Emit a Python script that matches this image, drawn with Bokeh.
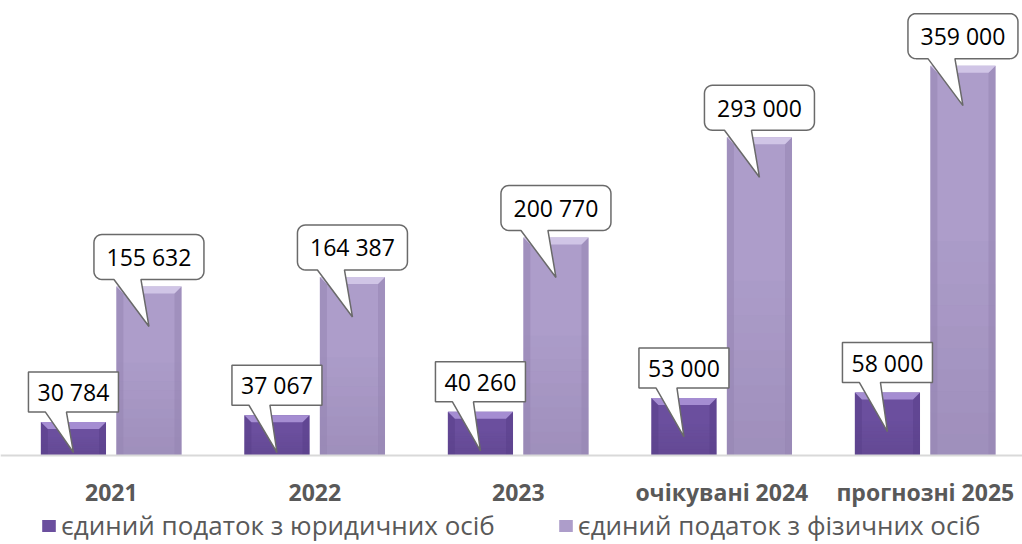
import numpy as np
from bokeh.plotting import figure
from bokeh.models import Range1d, FixedTicker, Legend, LegendItem
from bokeh.core.properties import value
from bokeh.embed import file_html
from bokeh.resources import INLINE

# ---------------- data ----------------
categories = ["2021", "2022", "2023", "очікувані 2024", "прогнозні 2025"]
legal_tax = [30784, 37067, 40260, 53000, 58000]
individual_tax = [155632, 164387, 200770, 293000, 359000]
series_names = ["єдиний податок з юридичних осіб", "єдиний податок з фізичних осіб"]

# ---------------- geometry / style ----------------
W, H = 1022, 544
BASE_PX = 455                 # baseline distance from top, px
CAT_PX = 203.5
X0 = -110.8 / CAT_PX
X1 = X0 + W / CAT_PX
PY = 1 / 0.001086             # y data units per pixel
PX = (X1 - X0) / W            # x data units per pixel
Y0 = -(H - BASE_PX) * PY
Y1 = BASE_PX * PY

BAR_W = 0.32
OFF_DARK, OFF_LIGHT = -0.186, 0.185

DARK = dict(base="#6b4f9e", top="#a58dd2", side="#5a3f8a")
LIGHT = dict(base="#ad9dca", top="#d0c5e6", side="#9585b3")

FONT = "Open Sans"

p = figure(frame_width=W, frame_height=H,
           x_range=Range1d(X0, X1), y_range=Range1d(Y0, Y1),
           y_axis_location=None,
           output_backend="svg", toolbar_location=None,
           min_border_left=0, min_border_right=0, min_border_top=0, min_border_bottom=0)
p.outline_line_color = None
p.grid.visible = False
p.background_fill_color = "white"
p.border_fill_color = "white"

xs_idx = np.arange(len(categories))


def draw_bars(offset, vals, col):
    left = xs_idx + offset - BAR_W / 2
    right = xs_idx + offset + BAR_W / 2
    vals = np.array(vals, dtype=float)
    r = p.quad(left=left, right=right, bottom=0, top=vals,
               fill_color=col["base"], line_color=None)
    b = 7  # bevel size in px
    bx, by = b * PX, b * PY
    nb = 10
    band_xs, band_ys, band_alpha = [], [], []
    for l, rr, v in zip(left, right, vals):
        for k in range(nb):
            y0 = v * 0.55 * k / nb
            y1 = v * 0.55 * (k + 1) / nb
            band_xs.append([l, rr, rr, l])
            band_ys.append([y0, y0, y1, y1])
            band_alpha.append(0.10 * (1 - k / nb))
    p.patches(band_xs, band_ys, fill_color="#2a1a40", fill_alpha=band_alpha, line_color=None)
    side_xs, side_ys = [], []
    for l, rr, v in zip(left, right, vals):
        side_xs.append([l, l + bx, l + bx, l])
        side_ys.append([v, v - by, 0, 0])
        side_xs.append([rr, rr - bx, rr - bx, rr])
        side_ys.append([v, v - by, 0, 0])
    p.patches(side_xs, side_ys, fill_color=col["side"], fill_alpha=0.55, line_color=None)
    top_xs, top_ys = [], []
    for l, rr, v in zip(left, right, vals):
        top_xs.append([l, rr, rr - bx, l + bx])
        top_ys.append([v, v, v - by, v - by])
    p.patches(top_xs, top_ys, fill_color=col["top"], line_color=None)
    return r


r_dark = draw_bars(OFF_DARK, legal_tax, DARK)
r_light = draw_bars(OFF_LIGHT, individual_tax, LIGHT)


def arc(cx, cy, r, a0, a1, n=8):
    if r <= 0:
        return [(cx, cy)]
    t = np.linspace(np.radians(a0), np.radians(a1), n)
    return list(zip(cx + r * np.cos(t), cy + r * np.sin(t)))


def callout(xc, v, w, h, gap, rad, tl, tr, depth):
    left, right = -w / 2, w / 2
    bot, top = gap, gap + h
    pts = []
    pts += arc(left + rad, bot + rad, rad, 180, 270)
    pts += [(tl, bot), (0, -depth), (tr, bot)]
    pts += arc(right - rad, bot + rad, rad, 270, 360)
    pts += arc(right - rad, top - rad, rad, 0, 90)
    pts += arc(left + rad, top - rad, rad, 90, 180)
    px_ = [xc + dx * PX for dx, dy in pts]
    py_ = [v + dy * PY for dx, dy in pts]
    return px_, py_, v + (gap + h / 2) * PY


def fmt(v):
    return f"{v:,}".replace(",", " ")


c_xs, c_ys, t_x, t_y, t_s = [], [], [], [], []
for i, v in enumerate(legal_tax):
    xc = i + OFF_DARK
    depth = min(39, v / PY - 3)
    a, b_, ty = callout(xc, v, 90, 40, 10, 0, -28, -7, depth)
    c_xs.append(a); c_ys.append(b_); t_x.append(xc); t_y.append(ty); t_s.append(fmt(v))
for i, v in enumerate(individual_tax):
    xc = i + OFF_LIGHT
    a, b_, ty = callout(xc, v, 110, 45, 7, 8, -35, -8, 40)
    c_xs.append(a); c_ys.append(b_); t_x.append(xc); t_y.append(ty); t_s.append(fmt(v))

p.patches(c_xs, c_ys, fill_color="white", line_color="#6a6a6a", line_width=1.5)
p.text(x=t_x, y=t_y, text=t_s, text_align="center", text_baseline="middle",
       text_font=value(FONT), text_font_size="23px", text_color="black")

ax = p.xaxis[0]
ax.fixed_location = 0
ax.ticker = FixedTicker(ticks=list(range(len(categories))))
ax.major_label_overrides = {i: c for i, c in enumerate(categories)}
ax.axis_line_color = "#d9d9d9"
ax.axis_line_width = 2
ax.major_tick_line_color = None
ax.minor_tick_line_color = None
ax.major_tick_out = 0
ax.major_tick_in = 0
ax.major_label_standoff = 20
ax.major_label_text_font = FONT
ax.major_label_text_font_style = "bold"
ax.major_label_text_font_size = "23px"
ax.major_label_text_color = "#595959"

legend = Legend(items=[LegendItem(label=series_names[0], renderers=[r_dark]),
                       LegendItem(label=series_names[1], renderers=[r_light])],
                orientation="horizontal", location=(40, 1),
                spacing=62, label_standoff=4, glyph_width=17, glyph_height=15,
                padding=0, margin=0, border_line_color=None, background_fill_alpha=0,
                label_text_font=FONT, label_text_font_size="26px", label_text_color="#595959")
p.add_layout(legend, "center")

open("out.html", "w").write(file_html(p, INLINE))
